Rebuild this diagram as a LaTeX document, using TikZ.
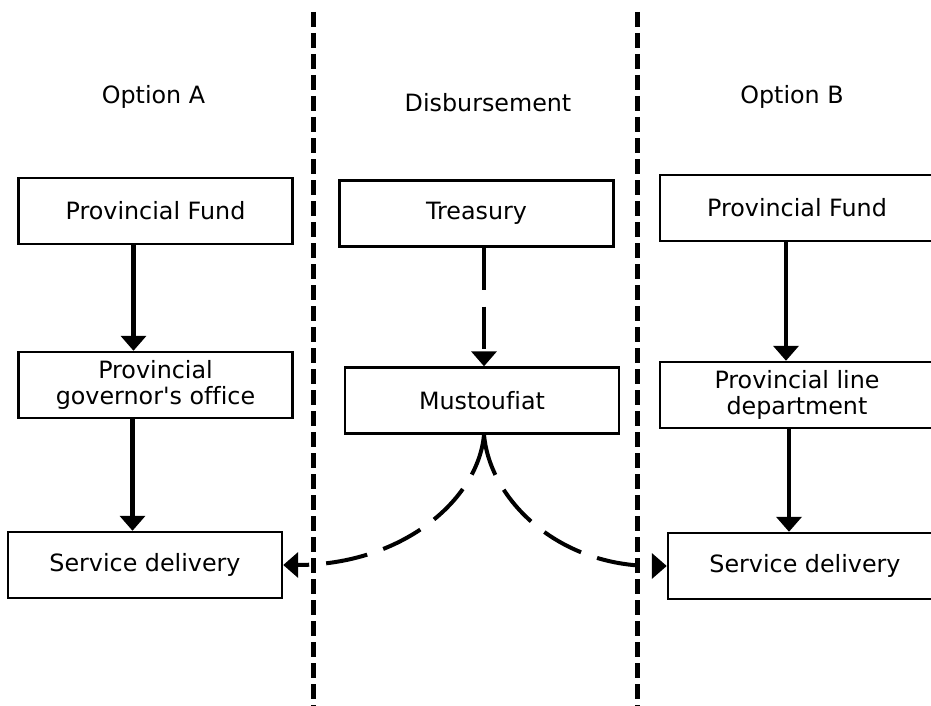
\documentclass[tikz,border=0pt]{standalone}
\usepackage{fontspec}
\setmainfont{DejaVu Sans}[Ligatures={NoCommon}]
\usepackage{tikz}
\usetikzlibrary{arrows.meta}
\newcommand{\boxfont}{\fontsize{11.9}{13}\selectfont}
\tikzset{
  box/.style     ={draw,line width=1.2pt,minimum width=137pt,minimum height=33pt,inner sep=2pt,align=center,font=\boxfont},
  heading/.style ={font=\boxfont},
  flow/.style    ={line width=2.2pt,-{Triangle[length=7.5pt,width=12.5pt]}},
  dashflow/.style={flow,dash pattern=on 21pt off 8.5pt},
  divider/.style ={line width=2.5pt,dash pattern=on 7.5pt off 3pt},
}

\begin{document}
\begin{tikzpicture}[x=0.5pt,y=-0.5pt]
  \useasboundingbox (0,0) rectangle (931,706);
  % columns
  \coordinate (divLtop) at (313,12);  \coordinate (divLbot) at (313,706);
  \coordinate (divRtop) at (637,12);  \coordinate (divRbot) at (637,706);
  \draw[divider] (divLtop) -- (divLbot);
  \draw[divider] (divRtop) -- (divRbot);
  \node[heading] (optA) at (153.5,97) {Option A};
  \node[heading] (disb) at (488,103)  {Disbursement};
  \node[heading] (optB) at (792,97)   {Option B};
  % option A
  \node[box] (fundA)    at (155.5,211) {Provincial Fund};
  \node[box] (govA)     at (155.5,385) {Provincial\\governor\textquotesingle s office};
  \node[box] (serviceA) at (145,565)   {Service delivery};
  \draw[flow] ([xshift=-11pt]fundA.south) -- ([xshift=-11pt]fundA.south |- govA.north);
  \draw[flow] ([xshift=-11.5pt]govA.south) -- ([xshift=-11.5pt]govA.south |- serviceA.north);
  % disbursement
  \node[box] (treasury)   at (476.5,213.5) {Treasury};
  \node[box] (mustoufiat) at (482,400.5)   {Mustoufiat};
  \draw[dashflow] ([xshift=3.75pt]treasury.south) -- ([xshift=3.75pt]treasury.south |- mustoufiat.north);
  % option B
  \node[box] (fundB)    at (797,208) {Provincial Fund};
  \node[box] (lineB)    at (797,395) {Provincial line\\department};
  \node[box] (serviceB) at (805,566) {Service delivery};
  \draw[flow] ([xshift=-5.5pt]fundB.south) -- ([xshift=-5.5pt]fundB.south |- lineB.north);
  \draw[flow] ([xshift=-4pt]lineB.south) -- ([xshift=-4pt]lineB.south |- serviceB.north);
  % payments
  \draw[dashflow,line width=2pt] ([xshift=1pt]mustoufiat.south) .. controls +(-6,66) and +(118,0) .. (serviceA.east);
  \draw[dashflow,line width=2pt] ([xshift=1pt]mustoufiat.south) .. controls +(6,66) and +(-108,0) .. (serviceB.west);
\end{tikzpicture}
\end{document}
